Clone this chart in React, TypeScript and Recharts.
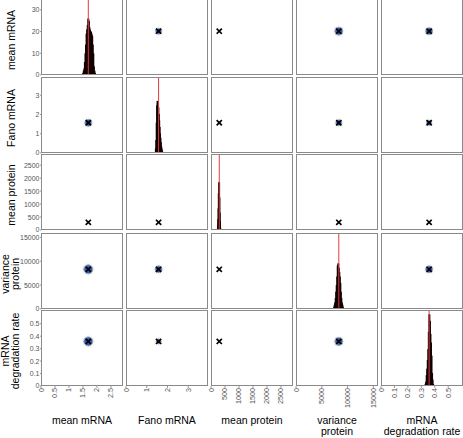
import React from 'react';
import { ComposedChart, Bar, Scatter, XAxis, YAxis, ReferenceLine } from 'recharts';

// ---------- data ----------
const variableNames = ['mean mRNA', 'Fano mRNA', 'mean protein', 'variance protein', 'mRNA degradation rate'];
const labelLines = [['mean mRNA'], ['Fano mRNA'], ['mean protein'], ['variance', 'protein'], ['mRNA', 'degradation rate']];

const axisMax = [2.93, 3.95, 2930, 15900, 0.61];
const trueValues = [1.69, 1.57, 295, 8300, 0.358];

const meanMrnaTicks = [0, 0.5, 1, 1.5, 2, 2.5];
const fanoMrnaTicks = [0, 1, 2, 3];
const meanProteinTicks = [0, 500, 1000, 1500, 2000, 2500];
const varianceProteinTicks = [0, 5000, 10000, 15000];
const degradationTicks = [0, 0.1, 0.2, 0.3, 0.4, 0.5];
const countTicks = [0, 10, 20, 30];
const countMax = 35;

const meanMrnaBins = [1.51, 1.53, 1.55, 1.57, 1.59, 1.61, 1.63, 1.65, 1.67, 1.69, 1.71, 1.73, 1.75, 1.77, 1.79, 1.81, 1.83, 1.85, 1.87, 1.89, 1.91, 1.93];
const meanMrnaCounts = [1, 2, 3, 6, 10, 14, 19, 21, 23, 26, 25, 22, 21, 20, 20, 19, 18, 14, 10, 4, 2, 1];

const fanoMrnaBins = [1.44, 1.46, 1.48, 1.5, 1.52, 1.54, 1.56, 1.58, 1.6, 1.62, 1.64, 1.66, 1.68, 1.7, 1.72, 1.74];
const fanoMrnaCounts = [2, 6, 14, 22, 24, 23, 21, 18, 15, 12, 9, 7, 5, 3, 2, 1];

const meanProteinBins = [250, 260, 270, 280, 290, 300, 310, 320, 330];
const meanProteinCounts = [2, 5, 10, 17, 22, 15, 8, 4, 1];

const varianceProteinBins = [7400, 7500, 7600, 7700, 7800, 7900, 8000, 8100, 8200, 8300, 8400, 8500, 8600, 8700, 8800, 8900, 9000, 9100];
const varianceProteinCounts = [1, 2, 3, 5, 8, 11, 15, 20, 21, 19, 17, 15, 12, 8, 5, 3, 2, 1];

const degradationBins = [0.332, 0.336, 0.34, 0.344, 0.348, 0.352, 0.356, 0.36, 0.364, 0.368, 0.372, 0.376, 0.38, 0.384, 0.388];
const degradationCounts = [1, 2, 5, 8, 12, 17, 25, 33, 30, 24, 20, 14, 6, 3, 1];

const tickSets = [meanMrnaTicks, fanoMrnaTicks, meanProteinTicks, varianceProteinTicks, degradationTicks];
const histBins = [meanMrnaBins, fanoMrnaBins, meanProteinBins, varianceProteinBins, degradationBins];
const histCounts = [meanMrnaCounts, fanoMrnaCounts, meanProteinCounts, varianceProteinCounts, degradationCounts];

// ---------- layout / style ----------
const PW = 82;
const PH = 76;
const YW = 41;
const XH = 40;
const PAD = 6;
const colX = [41, 126, 211, 296, 381];
const rowY = [-1, 77, 154, 233, 310];
const FONT = '"Liberation Sans", Arial, Helvetica, sans-serif';

// size of posterior blob (px) in each off-diagonal panel [row][col]
const blobRadius = [
  [0, 3, 0, 4, 3.5],
  [3.5, 0, 0, 3, 2.5],
  [0, 0, 0, 0, 0],
  [4.5, 3.5, 0, 0, 3.5],
  [4.5, 2.5, 0, 4, 0],
];

const RotTick = (props: any) => {
  const { x, y, payload } = props;
  return (
    <text
      x={x}
      y={y}
      transform={`rotate(-90 ${x} ${y})`}
      textAnchor="end"
      dominantBaseline="central"
      fontSize={7.2}
      fill="#555"
      fontFamily={FONT}
    >
      {payload.value}
    </text>
  );
};

const HistBar = (props: any) => {
  const { x, y, width, height } = props;
  if (height == null || height <= 0) return null;
  const cx = x + width / 2;
  return <rect x={cx - 1} y={y} width={2} height={height} fill="#120000" />;
};

const makeMarker = (r: number) => (props: any) => {
  const { cx, cy } = props;
  const s = 2.6;
  return (
    <g>
      {r > 0 && <circle cx={cx} cy={cy} r={r + 2} fill="#f3efc2" opacity={0.35} />}
      {r > 0 && <circle cx={cx} cy={cy} r={r} fill="#3a58a6" stroke="#93aae0" strokeWidth={1} />}
      <line x1={cx - s} y1={cy - s} x2={cx + s} y2={cy + s} stroke="#000" strokeWidth={1.7} />
      <line x1={cx - s} y1={cy + s} x2={cx + s} y2={cy - s} stroke="#000" strokeWidth={1.7} />
    </g>
  );
};

function Panel({ r, c }: { r: number; c: number }) {
  const isDiag = r === c;
  const left = (c === 0 ? colX[c] - YW : colX[c]) - PAD;
  const width = PW + (c === 0 ? YW : 0) + 2 * PAD;
  const height = PH + (r === 4 ? XH : 0) + 2 * PAD;
  const yTicks = isDiag ? countTicks : tickSets[r];
  const yDomain = isDiag ? [0, countMax] : [0, axisMax[r]];
  const histData = isDiag ? histBins[c].map((b, i) => ({ x: b, y: histCounts[c][i] })) : undefined;
  const pointData = isDiag ? [] : [{ x: trueValues[c], y: trueValues[r] }];

  return (
    <div style={{ position: 'absolute', left, top: rowY[r] - PAD }}>
      <ComposedChart
        width={width}
        height={height}
        data={histData}
        margin={{ top: PAD, right: PAD, bottom: PAD, left: PAD }}
      >
        <XAxis
          type="number"
          dataKey="x"
          domain={[0, axisMax[c]]}
          ticks={tickSets[c]}
          allowDataOverflow
          hide={r !== 4}
          height={XH}
          interval={0}
          tick={<RotTick />}
          tickSize={2}
          tickMargin={0}
          tickLine={{ stroke: '#999' }}
          axisLine={false}
        />
        <YAxis
          type="number"
          dataKey="y"
          domain={yDomain}
          ticks={yTicks}
          allowDataOverflow
          hide={c !== 0}
          width={YW}
          interval={0}
          tick={{ fontSize: 7, fill: '#555', fontFamily: FONT }}
          tickSize={1}
          tickMargin={0.5}
          tickLine={{ stroke: '#999' }}
          axisLine={false}
        />
        {isDiag && (
          <Bar dataKey="y" barSize={2} fill="#120000" shape={<HistBar />} isAnimationActive={false} />
        )}
        {isDiag && <ReferenceLine x={trueValues[c]} stroke="#e23b3b" strokeWidth={1} />}
        {!isDiag && (
          <Scatter data={pointData} shape={makeMarker(blobRadius[r][c])} isAnimationActive={false} />
        )}
      </ComposedChart>
    </div>
  );
}

export default function App() {
  const idx = [0, 1, 2, 3, 4];
  return (
    <div
      style={{
        position: 'absolute',
        left: 0,
        top: 0,
        width: 463,
        height: 438,
        background: '#fff',
        overflow: 'hidden',
        fontFamily: FONT,
      }}
    >
      <svg width={463} height={438} style={{ position: 'absolute', left: 0, top: 0 }}>
        {labelLines.map((lines, i) => (
          <text key={'b' + i} fontSize={10.5} textAnchor="middle" fill="#000" fontFamily={FONT}>
            {lines.map((l, j) => (
              <tspan key={j} x={colX[i] + PW / 2} y={424 + j * 11}>
                {l}
              </tspan>
            ))}
          </text>
        ))}
        {labelLines.map((lines, i) => {
          const cy = rowY[i] + PH / 2 + 3;
          const bx = lines.length === 1 ? [15] : [9, 19];
          return (
            <text key={'l' + i} transform="rotate(-90)" fontSize={10.5} textAnchor="middle" fill="#000" fontFamily={FONT}>
              {lines.map((l, j) => (
                <tspan key={j} x={-cy} y={bx[j]}>
                  {l}
                </tspan>
              ))}
            </text>
          );
        })}
      </svg>
      {idx.map((r) => idx.map((c) => <Panel key={`${r}-${c}`} r={r} c={c} />))}
      {idx.map((r) =>
        idx.map((c) => (
          <div
            key={`f${r}-${c}`}
            style={{
              position: 'absolute',
              left: colX[c],
              top: rowY[r],
              width: PW,
              height: PH,
              border: '1px solid #8a8a8a',
              boxSizing: 'border-box',
              pointerEvents: 'none',
            }}
          />
        ))
      )}
    </div>
  );
}
